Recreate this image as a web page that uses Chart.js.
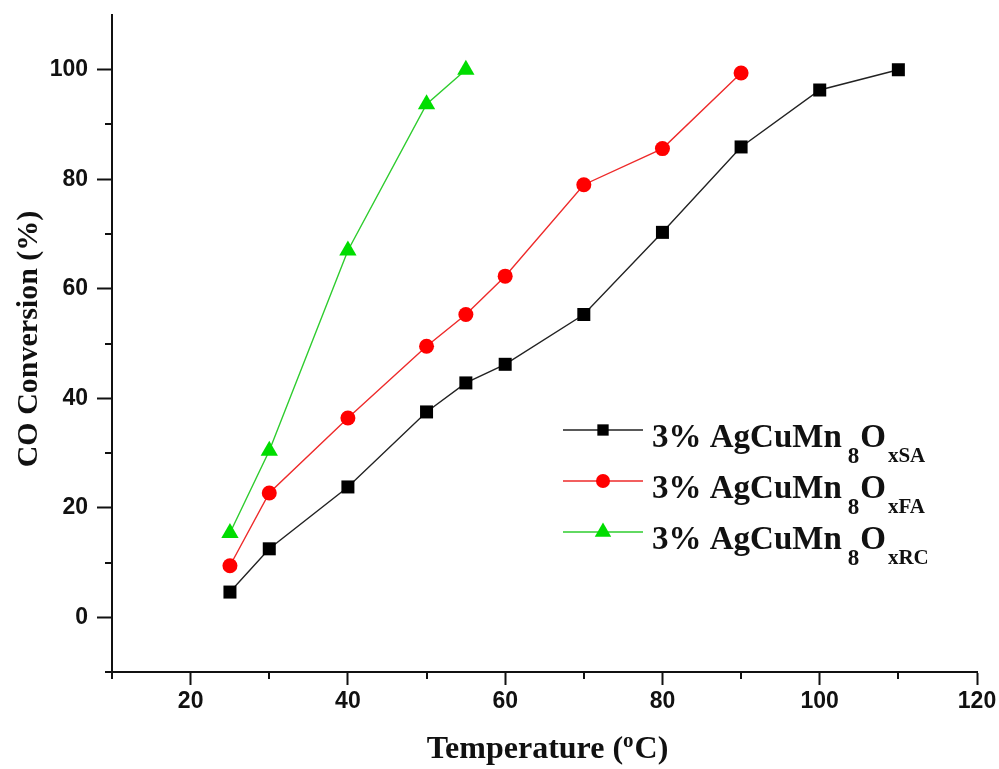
<!DOCTYPE html>
<html>
<head>
<meta charset="utf-8">
<script src="https://cdn.jsdelivr.net/npm/chart.js@4/dist/chart.umd.min.js"></script>
<style>
  html, body { margin: 0; padding: 0; background: #ffffff; }
  #wrap { width: 999px; height: 769px; }
</style>
</head>
<body>
<div id="wrap"><canvas id="chart" width="999" height="769"></canvas></div>
<script>
// CO conversion vs. temperature for three catalysts
const temperatureSA = [25, 30, 40, 50, 55, 60, 70, 80, 90, 100, 110];
const conversionSA  = [4.6, 12.5, 23.8, 37.5, 42.8, 46.2, 55.3, 70.3, 85.9, 96.3, 100];

const temperatureFA = [25, 30, 40, 50, 55, 60, 70, 80, 90];
const conversionFA  = [9.4, 22.7, 36.4, 49.5, 55.3, 62.3, 79.0, 85.6, 99.4];

const temperatureRC = [25, 30, 40, 50, 55];
const conversionRC  = [15.4, 30.4, 67.0, 93.7, 100];

// Legend text pieces: main part, subscript digit, oxide, subscript suffix
const labelMain    = '3% AgCuMn';
const labelSubNum  = '8';
const labelOxide   = 'O';
const labelSuffix  = ['xSA', 'xFA', 'xRC'];

// Axis ticks
const xMajorTicks = [20, 40, 60, 80, 100, 120];
const xMinorTicks = [10, 30, 50, 70, 90, 110];
const yMajorTicks = [0, 20, 40, 60, 80, 100];
const yMinorTicks = [-10, 10, 30, 50, 70, 90];

const xTitleMain = 'Temperature (';
const xTitleSup  = 'o';
const xTitleEnd  = 'C)';
const yTitle     = 'CO Conversion (%)';

const toPoints = (xs, ys) => xs.map((x, i) => ({ x: x, y: ys[i] }));

const SERIF = '"Liberation Serif", "Times New Roman", serif';
const SANS  = '"Liberation Sans", Arial, sans-serif';

// Short minor tick marks on both axes
const minorTicksPlugin = {
  id: 'minorTicks',
  afterDraw(chart) {
    const ctx = chart.ctx;
    const xs = chart.scales.x, ys = chart.scales.y;
    const area = chart.chartArea;
    ctx.save();
    ctx.strokeStyle = '#111111';
    ctx.lineWidth = 2;
    ctx.beginPath();
    yMinorTicks.forEach(v => {
      const py = Math.round(ys.getPixelForValue(v));
      ctx.moveTo(area.left - 7, py);
      ctx.lineTo(area.left, py);
    });
    xMinorTicks.forEach(v => {
      const px = Math.round(xs.getPixelForValue(v));
      ctx.moveTo(px, area.bottom);
      ctx.lineTo(px, area.bottom + 7);
    });
    ctx.stroke();
    ctx.restore();
  }
};

// Axis titles: rotated y title and x title with a superscript "o"
const axisTitlesPlugin = {
  id: 'axisTitles',
  afterDraw(chart) {
    const ctx = chart.ctx;
    const area = chart.chartArea;
    ctx.save();
    ctx.fillStyle = '#111111';

    // y title
    ctx.save();
    ctx.translate(29, 339);
    ctx.rotate(-Math.PI / 2);
    ctx.font = 'bold 30px ' + SERIF;
    ctx.textAlign = 'center';
    ctx.textBaseline = 'middle';
    ctx.fillText(yTitle, 0, 0);
    ctx.restore();

    // x title
    ctx.textBaseline = 'alphabetic';
    const mainFont = 'bold 32px ' + SERIF;
    const supFont = 'bold 21px ' + SERIF;
    ctx.font = mainFont;
    const w1 = ctx.measureText(xTitleMain).width;
    const w3 = ctx.measureText(xTitleEnd).width;
    ctx.font = supFont;
    const w2 = ctx.measureText(xTitleSup).width + 1;
    const total = w1 + w2 + w3;
    const cx = (area.left + area.right) / 2 + 3;
    const base = 758;
    let x = cx - total / 2;
    ctx.font = mainFont;
    ctx.fillText(xTitleMain, x, base);
    x += w1;
    ctx.font = supFont;
    ctx.fillText(xTitleSup, x, base - 11);
    x += w2;
    ctx.font = mainFont;
    ctx.fillText(xTitleEnd, x, base);
    ctx.restore();
  }
};

// Legend with subscripted formula labels
const formulaLegendPlugin = {
  id: 'formulaLegend',
  afterDraw(chart) {
    const ctx = chart.ctx;
    const lineX0 = 563, lineX1 = 643, markX = 603, textX = 652;
    const rowTop = 430, rowStep = 51;
    chart.data.datasets.forEach((ds, i) => {
      const y = rowTop + i * rowStep;
      ctx.save();
      ctx.strokeStyle = ds.borderColor;
      ctx.lineWidth = 1.5;
      ctx.beginPath();
      ctx.moveTo(lineX0, y);
      ctx.lineTo(lineX1, y);
      ctx.stroke();
      ctx.fillStyle = ds.pointBackgroundColor;
      Chart.helpers.drawPoint(ctx, {
        pointStyle: ds.pointStyle,
        radius: ds.legendRadius,
        rotation: 0,
        borderWidth: 0
      }, markX, y);

      ctx.fillStyle = '#111111';
      ctx.textBaseline = 'alphabetic';
      const base = y + 17;
      let x = textX;
      ctx.font = 'bold 33px ' + SERIF;
      ctx.fillText(labelMain, x, base);
      x += ctx.measureText(labelMain).width + 6;
      ctx.font = 'bold 23px ' + SERIF;
      ctx.fillText(labelSubNum, x, base + 16);
      x += ctx.measureText(labelSubNum).width + 1;
      ctx.font = 'bold 33px ' + SERIF;
      ctx.fillText(labelOxide, x, base);
      x += ctx.measureText(labelOxide).width + 2;
      ctx.font = 'bold 21px ' + SERIF;
      ctx.fillText(labelSuffix[i], x, base + 15);
      ctx.restore();
    });
  }
};

const tickFont = { family: SANS, weight: 'bold', size: 23 };

new Chart(document.getElementById('chart'), {
  type: 'scatter',
  data: {
    datasets: [
      {
        label: labelMain + labelSubNum + labelOxide + labelSuffix[0],
        data: toPoints(temperatureSA, conversionSA),
        showLine: true,
        borderColor: '#222222',
        borderWidth: 1.4,
        pointStyle: 'rect',
        pointRadius: 9.2,
        legendRadius: 8,
        pointBackgroundColor: '#000000',
        pointBorderWidth: 0
      },
      {
        label: labelMain + labelSubNum + labelOxide + labelSuffix[1],
        data: toPoints(temperatureFA, conversionFA),
        showLine: true,
        borderColor: '#ee2a2a',
        borderWidth: 1.4,
        pointStyle: 'circle',
        pointRadius: 7.5,
        legendRadius: 7,
        pointBackgroundColor: '#ff0000',
        pointBorderWidth: 0
      },
      {
        label: labelMain + labelSubNum + labelOxide + labelSuffix[2],
        data: toPoints(temperatureRC, conversionRC),
        showLine: true,
        borderColor: '#2ecc2e',
        borderWidth: 1.4,
        pointStyle: 'triangle',
        pointRadius: 10,
        legendRadius: 9.5,
        pointBackgroundColor: '#00dd00',
        pointBorderWidth: 0
      }
    ]
  },
  options: {
    responsive: false,
    animation: false,
    events: [],
    layout: { padding: { top: 15, right: 22, left: 0, bottom: 0 } },
    plugins: {
      legend: { display: false },
      tooltip: { enabled: false }
    },
    scales: {
      x: {
        type: 'linear',
        min: 10,
        max: 120,
        afterBuildTicks: s => { s.ticks = xMajorTicks.map(v => ({ value: v })); },
        afterFit: s => { s.height = 97; s.paddingLeft = 0; s.paddingRight = 0; },
        grid: { drawOnChartArea: false, tickLength: 13, tickWidth: 2, tickColor: '#111111' },
        border: { display: true, color: '#111111', width: 2 },
        ticks: { font: tickFont, color: '#111111', padding: 3, maxRotation: 0, autoSkip: false }
      },
      y: {
        type: 'linear',
        min: -10,
        max: 110,
        afterBuildTicks: s => { s.ticks = yMajorTicks.map(v => ({ value: v })); },
        afterFit: s => { s.width = 112; s.paddingTop = 0; s.paddingBottom = 0; },
        grid: { drawOnChartArea: false, tickLength: 15, tickWidth: 2, tickColor: '#111111' },
        border: { display: true, color: '#111111', width: 2 },
        ticks: { font: tickFont, color: '#111111', padding: 9, autoSkip: false }
      }
    }
  },
  plugins: [minorTicksPlugin, axisTitlesPlugin, formulaLegendPlugin]
});
</script>
</body>
</html>
